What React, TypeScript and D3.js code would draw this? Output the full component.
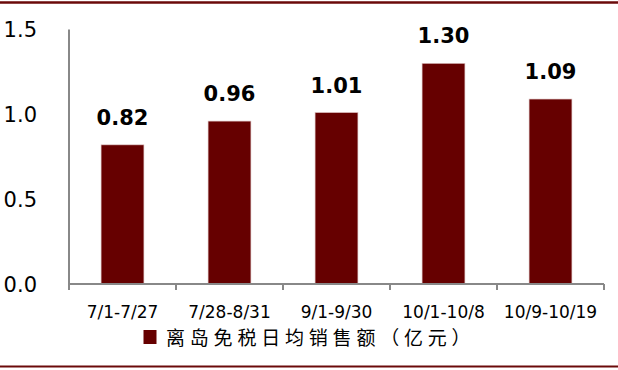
import React from "react";
import * as d3 from "d3";

const categories = ["7/1-7/27", "7/28-8/31", "9/1-9/30", "10/1-10/8", "10/9-10/19"];
const values = [0.82, 0.96, 1.01, 1.3, 1.09];
const yTicks = [0, 0.5, 1.0, 1.5];
const legendLabel = "离岛免税日均销售额（亿元）";

const W = 618;
const H = 370;
const BAR = "#660000";

export default function App() {
  const x = d3.scaleBand<string>().domain(categories).range([69, 604]).paddingInner(0.6).paddingOuter(0.3);
  const y = d3.scaleLinear().domain([0, 1.5]).range([284, 29.5]);
  const band = d3.scaleBand<string>().domain(categories).range([69, 604]);
  return (
    <svg width={W} height={H} style={{ position: "absolute", left: 0, top: 0 }}>
      <rect x={0} y={0} width={W} height={H} fill="#fff" />
      <line x1={0} x2={W} y1={2.5} y2={2.5} stroke="#6b0a0a" strokeWidth={2.5} />
      <line x1={0} x2={W} y1={366.5} y2={366.5} stroke="#6b0a0a" strokeWidth={2} />
      {/* y axis */}
      <line x1={69} x2={69} y1={y(1.5)} y2={y(0)} stroke="#888" strokeWidth={2} />
      {yTicks.map((t) => (
        <text key={t} x={37} y={y(t) + 7.5} textAnchor="end" fontFamily="DejaVu Sans, Verdana, sans-serif" fontSize={21} fill="#000">
          {d3.format(".1f")(t)}
        </text>
      ))}
      {/* bars */}
      {categories.map((c, i) => (
        <rect key={c} x={x(c)} y={y(values[i])} width={x.bandwidth()} height={y(0) - y(values[i])} fill={BAR} stroke="#d8b8b8" strokeWidth={0.6} />
      ))}
      {categories.map((c, i) => (
        <text key={c} x={x(c)! + x.bandwidth() / 2} y={y(values[i]) - 20} textAnchor="middle" fontFamily="DejaVu Sans, Verdana, sans-serif" fontWeight="bold" fontSize={21} fill="#000">
          {d3.format(".2f")(values[i])}
        </text>
      ))}
      {/* x axis */}
      <line x1={69} x2={604} y1={284} y2={284} stroke="#888" strokeWidth={2} />
      {[...categories.map((c) => band(c)!), 604].map((v, i) => (
        <line key={i} x1={v} x2={v} y1={284} y2={290} stroke="#888" strokeWidth={2} />
      ))}
      {categories.map((c) => (
        <text key={c} x={band(c)! + band.bandwidth() / 2} y={318} textAnchor="middle" fontFamily="DejaVu Sans, Verdana, sans-serif" fontSize={17} fill="#000">
          {c}
        </text>
      ))}
      {/* legend */}
      <rect x={143.5} y={330} width={13} height={14} fill={BAR} />
      <text x={166} y={345} fontFamily="Noto Sans CJK SC, sans-serif" fontSize={19} letterSpacing={4.8} fill="#000">
        {legendLabel}
      </text>
    </svg>
  );
}
